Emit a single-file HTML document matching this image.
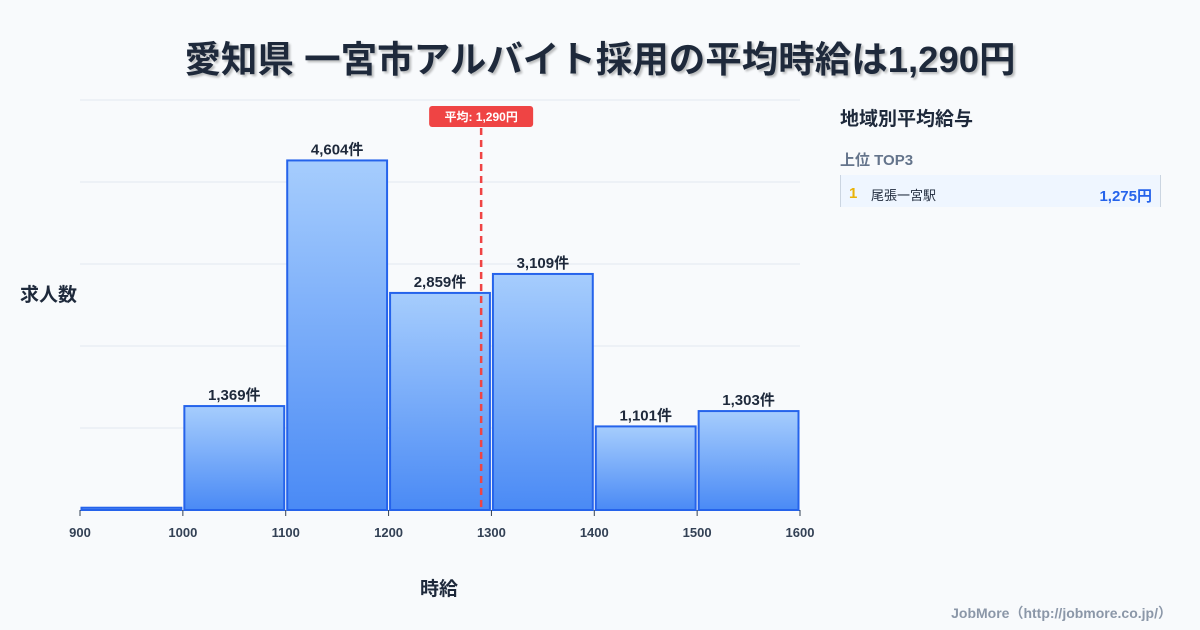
<!DOCTYPE html>
<html><head><meta charset="utf-8"><style>
body{margin:0;width:1200px;height:630px;background:#f8fafc;font-family:"Liberation Sans","Noto Sans CJK JP",sans-serif;overflow:hidden;position:relative}
.t{position:absolute}
</style></head><body>
<div class="t" style="left:0;width:1200px;top:30px;text-align:center;font-size:36.5px;font-weight:bold;color:#1e293b;text-shadow:2px 2px 2px rgba(0,0,0,0.25)">愛知県 一宮市アルバイト採用の平均時給は1,290円</div>
<svg id="c" width="1200" height="630" style="position:absolute;left:0;top:0">
<defs><linearGradient id="g" x1="0" y1="0" x2="0" y2="1"><stop offset="0" stop-color="#a6cdfd"/><stop offset="1" stop-color="#4a8af5"/></linearGradient></defs>
<g id="grid"></g><g id="bars"></g><g id="axis"></g>
</svg>
<div class="t" style="left:20px;top:280px;font-size:19px;font-weight:bold;color:#1e293b">求人数</div>
<div class="t" style="left:420px;top:574px;font-size:19px;font-weight:bold;color:#1e293b">時給</div>
<div class="t" style="left:840px;top:104px;font-size:19px;font-weight:bold;color:#1e293b">地域別平均給与</div>
<div class="t" style="left:840px;top:149px;font-size:15px;font-weight:bold;color:#64748b">上位 TOP3</div>
<div class="t" style="left:840px;top:175px;width:319px;height:32px;background:#eff6ff;border-left:1px solid #cbd5e1;border-right:1px solid #cbd5e1">
<span style="position:absolute;left:8px;top:10px;font-size:15px;font-weight:bold;color:#eab308">1</span>
<span style="position:absolute;left:30px;top:10px;font-size:13px;color:#1e293b">尾張一宮駅</span>
<span style="position:absolute;right:8px;top:10px;font-size:15px;font-weight:bold;color:#2563eb">1,275円</span></div>
<div class="t" style="right:28px;top:603px;font-size:14px;font-weight:bold;color:#8b97a8">JobMore（http://jobmore.co.jp/）</div>
<script>
const bins=[900,1000,1100,1200,1300,1400,1500];
const counts=[30,1369,4604,2859,3109,1101,1303];
const labels=["","1,369件","4,604件","2,859件","3,109件","1,101件","1,303件"];
const xTicks=[900,1000,1100,1200,1300,1400,1500,1600];
const mean=1290;
const NS="http://www.w3.org/2000/svg";
const x=v=>80+(v-900)*720/700, y=v=>510-v*410/5400;
function mk(t,a,p){const e=document.createElementNS(NS,t);for(const k in a)e.setAttribute(k,a[k]);p.appendChild(e);return e;}
const G=document.getElementById('grid'),B=document.getElementById('bars'),A=document.getElementById('axis');
for(let i=0;i<=5;i++){const l=mk('line',{x1:80,x2:800,y1:y(i*1080),y2:y(i*1080),stroke:'#e2e8f0'},G);

}
bins.forEach((b,i)=>{const r=mk('rect',{x:x(b)+1.5,y:y(counts[i]),width:x(b+100)-x(b)-3,height:510-y(counts[i]),fill:'url(#g)',stroke:'#2563eb','stroke-width':2},B);


if(labels[i]){const t=mk('text',{x:(x(b)+x(b+100))/2,y:y(counts[i])-6,'text-anchor':'middle','font-size':15,'font-weight':'bold',fill:'#1e293b'},B);t.textContent=labels[i];

}});
xTicks.forEach(v=>{mk('line',{x1:x(v),x2:x(v),y1:510,y2:516,stroke:'#334155'},A);
const t=mk('text',{x:x(v),y:537,'text-anchor':'middle','font-size':13,'font-weight':'bold',fill:'#334155'},A);t.textContent=v;

});
const mx=x(mean);
const ml=mk('line',{x1:mx,x2:mx,y1:128,y2:510,stroke:'#ef4444','stroke-width':2.5,'stroke-dasharray':'7,5'},A);


const mr=mk('rect',{x:mx-52,y:106,width:104,height:21,rx:3,fill:'#ef4444'},A);


const mt=mk('text',{x:mx,y:121,'text-anchor':'middle','font-size':12,'font-weight':'bold',fill:'#fff'},A);mt.textContent='平均: 1,290円';


</script>
</body></html>
